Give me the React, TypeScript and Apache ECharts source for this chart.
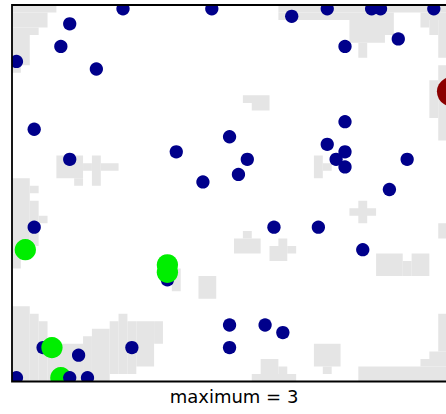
import React, { useEffect, useRef } from "react";
import * as echarts from "echarts";

// Grid of nodes (SOM-like map): 50 columns x 50 rows, row 0 at the top
const GRID_COLS = 50;
const GRID_ROWS = 50;

// Light-gray background cells, as runs: [colStart, colEnd, rowStart, rowEnd] (inclusive)
const grayCells: number[][] = [
  [0, 4, 0, 0], [0, 3, 1, 2], [0, 2, 3, 3], [0, 1, 4, 7], [0, 0, 8, 8],
  [30, 49, 0, 0], [30, 42, 1, 1], [46, 49, 1, 1], [38, 42, 2, 3], [38, 41, 4, 4],
  [39, 39, 5, 6], [46, 46, 2, 2], [47, 47, 2, 3], [48, 49, 2, 6],
  [48, 49, 8, 17], [47, 47, 10, 14],
  [26, 28, 12, 12], [27, 28, 13, 13],
  [5, 7, 20, 22], [7, 7, 23, 23], [8, 8, 21, 21], [9, 9, 20, 23], [10, 11, 21, 21],
  [34, 34, 20, 22], [35, 35, 21, 21],
  [38, 40, 27, 27], [39, 39, 26, 28],
  [48, 49, 29, 30],
  [25, 27, 31, 32], [26, 26, 30, 30],
  [29, 30, 32, 33], [30, 30, 31, 31], [31, 31, 32, 32],
  [41, 43, 33, 35], [45, 46, 33, 35], [44, 44, 34, 35],
  [18, 18, 35, 37], [21, 22, 36, 38],
  [34, 36, 45, 47], [35, 35, 48, 48],
  [27, 31, 49, 49], [28, 29, 47, 48], [30, 30, 48, 48],
  [39, 49, 48, 49], [46, 49, 47, 47], [47, 49, 46, 46], [48, 49, 41, 45],
  [0, 1, 23, 32], [0, 0, 33, 34], [2, 2, 24, 24], [2, 2, 26, 31], [3, 3, 28, 28],
  [0, 1, 40, 49], [2, 2, 41, 49], [3, 3, 42, 49], [4, 7, 45, 49], [8, 8, 44, 49],
  [9, 10, 43, 49], [11, 11, 42, 48], [12, 12, 41, 48], [13, 13, 42, 48],
  [14, 15, 42, 47], [16, 16, 42, 44],
];

// Nodes with hits: column, row, count
const nodeCols = [12, 6, 5, 0, 9, 2, 22, 31, 24, 35, 40, 41, 47, 37, 43, 37, 49, 6, 2, 1, 18, 26, 25, 21, 29, 17, 17, 17, 35, 37, 36, 37, 44, 42, 34, 39, 3, 4, 7, 13, 0, 5, 6, 8, 24, 28, 30, 24];
const nodeRows = [0, 2, 5, 7, 8, 16, 0, 1, 17, 0, 0, 0, 0, 5, 4, 15, 11, 20, 29, 32, 19, 20, 22, 23, 29, 34, 35, 36, 18, 19, 20, 21, 20, 24, 29, 32, 45, 45, 46, 45, 49, 49, 49, 49, 42, 42, 43, 45];
const nodeCounts = [1, 1, 1, 1, 1, 1, 1, 1, 1, 1, 1, 1, 1, 1, 1, 1, 3, 1, 1, 2, 1, 1, 1, 1, 1, 2, 2, 1, 1, 1, 1, 1, 1, 1, 1, 1, 1, 2, 1, 1, 1, 2, 1, 1, 1, 1, 1, 1];

const countColors: Record<number, string> = { 1: "#00008B", 2: "#00EE00", 3: "#8B0000" };
const GRAY = "#E5E5E5";

export default function App() {
  const ref = useRef<HTMLDivElement>(null);
  useEffect(() => {
    if (!ref.current) return;
    const chart = echarts.init(ref.current, undefined, { renderer: "svg" });

    const nodes = nodeCols
      .map((c, i) => [c, nodeRows[i], nodeCounts[i]])
      .sort((a, b) => (b[1] - a[1]) || (a[0] - b[0]));
    const maxCount = Math.max(...nodeCounts);

    const gl = 12, gt = 5, gw = 444, gh = 376.5;

    chart.setOption({
      animation: false,
      backgroundColor: "#fff",
      grid: { left: gl, top: gt, width: gw, height: gh, show: false, outerBoundsMode: "none", containLabel: false },
      xAxis: { type: "value", min: 0, max: GRID_COLS, show: false },
      yAxis: { type: "value", min: 0, max: GRID_ROWS, inverse: true, show: false },
      series: [
        {
          type: "custom",
          clip: true,
          silent: true,
          data: grayCells,
          renderItem: (params: any, api: any) => {
            const p0 = api.coord([api.value(0), api.value(2)]);
            const p1 = api.coord([api.value(1) + 1, api.value(3) + 1]);
            return {
              type: "rect",
              shape: {
                x: Math.min(p0[0], p1[0]),
                y: Math.min(p0[1], p1[1]),
                width: Math.abs(p1[0] - p0[0]),
                height: Math.abs(p1[1] - p0[1]),
              },
              style: { fill: GRAY },
            };
          },
        },
        {
          type: "custom",
          clip: true,
          silent: true,
          data: nodes,
          renderItem: (params: any, api: any) => {
            const n = api.value(2);
            const p = api.coord([api.value(0) + 0.5, api.value(1) + 0.5]);
            return {
              type: "circle",
              shape: { cx: p[0], cy: p[1], r: (5.3 + 8 * n) / 2 },
              style: { fill: countColors[n] },
            };
          },
        },
      ],
      graphic: [
        {
          type: "rect",
          z: 100,
          silent: true,
          shape: { x: gl, y: gt, width: gw, height: gh },
          style: { fill: "none", stroke: "#000", lineWidth: 1.8 },
        },
        {
          type: "text",
          z: 100,
          x: 234,
          y: 396,
          style: {
            text: `maximum = ${maxCount}`,
            fontFamily: "DejaVu Sans",
            fontSize: 18,
            fill: "#000",
            align: "center",
            verticalAlign: "middle",
          },
        },
      ],
    });
    return () => chart.dispose();
  }, []);
  return (
    <div
      ref={ref}
      style={{ position: "fixed", left: 0, top: 0, width: 446, height: 414 }}
    />
  );
}
